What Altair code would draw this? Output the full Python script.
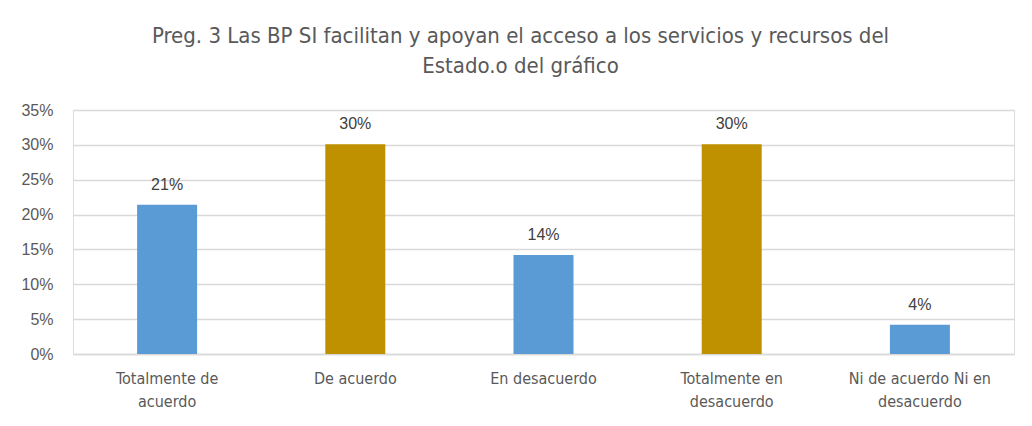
import altair as alt
import pandas as pd

categories = ["Totalmente de acuerdo", "De acuerdo", "En desacuerdo",
              "Totalmente en desacuerdo", "Ni de acuerdo Ni en desacuerdo"]
label_lines = [["Totalmente de", "acuerdo"], ["De acuerdo"], ["En desacuerdo"],
               ["Totalmente en", "desacuerdo"], ["Ni de acuerdo Ni en", "desacuerdo"]]
values = [0.214, 0.301, 0.142, 0.301, 0.042]
bar_labels = ["21%", "30%", "14%", "30%", "4%"]
groups = ["a", "b", "a", "b", "a"]
group_colors = ["#5B9BD5", "#BF9000"]
y_ticks = [0, 0.05, 0.10, 0.15, 0.20, 0.25, 0.30, 0.35]
title_lines = ["Preg. 3 Las BP  SI  facilitan y apoyan el acceso a  los servicios y recursos  del",
               "Estado.o del gráfico"]

df = pd.DataFrame({"cat": categories, "val": values, "lab": bar_labels, "grp": groups})

expr_parts = []
for c, lines in zip(categories, label_lines):
    arr = "[" + ",".join("'" + l + "'" for l in lines) + "]"
    expr_parts.append(f"datum.label == '{c}' ? {arr} : ")
label_expr = "".join(expr_parts) + "datum.label"

narrow = "DejaVu Sans Condensed, Liberation Sans, sans-serif"
normal = "Liberation Sans, sans-serif"

x = alt.X("cat:N", sort=categories, title=None,
          scale=alt.Scale(paddingInner=0.68, paddingOuter=0.34),
          axis=alt.Axis(labelAngle=0, labelExpr=label_expr, labelFont=narrow,
                        labelFontSize=16, labelColor="#595959", labelPadding=16,
                        labelLineHeight=23, ticks=False, grid=False, domainColor="#d9d9d9",
                        domainWidth=1.5, labelOverlap=False, labelLimit=300))
y = alt.Y("val:Q", title=None,
          scale=alt.Scale(domain=[0, 0.35], nice=False),
          axis=alt.Axis(values=y_ticks, tickCount=8, format=".0%", labelFont=normal,
                        labelFontSize=16, labelOverlap=False,
                        labelColor="#595959", labelPadding=20, ticks=False, domain=False,
                        gridColor="#d9d9d9", gridWidth=1.5))

bars = alt.Chart(df).mark_bar(size=60).encode(
    x=x, y=y,
    color=alt.Color("grp:N", scale=alt.Scale(domain=["a", "b"], range=group_colors), legend=None),
)
text = alt.Chart(df).mark_text(dy=-12, baseline="bottom", font=normal, fontSize=16,
                               color="#404040").encode(
    x=alt.X("cat:N", sort=categories), y="val:Q", text="lab:N")

chart = (bars + text).properties(
    width=941, height=244,
    autosize=alt.AutoSizeParams(type="none"),
    padding={"left": 65, "top": 102, "right": 10, "bottom": 62},
    title=alt.TitleParams(title_lines, font=narrow, fontSize=22, fontWeight="normal",
                          color="#595959", lineHeight=30, offset=24, dx=-23, anchor="middle"),
).configure_view(strokeWidth=0, stroke="transparent").configure(background="white")

chart.save("out.html", embed_options={"renderer": "svg", "actions": False})
